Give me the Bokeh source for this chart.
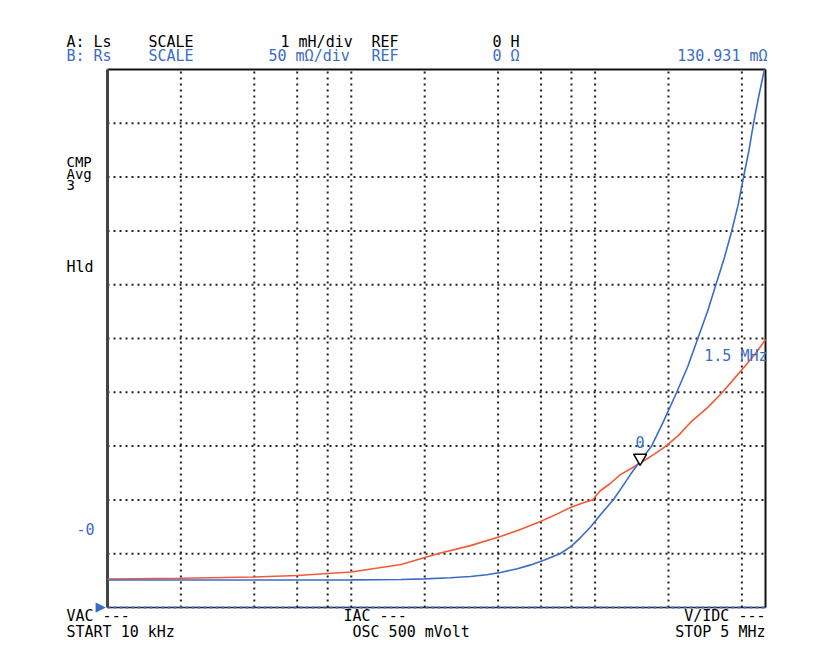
import math
from bokeh.plotting import figure
from bokeh.models import Label, Range1d
from bokeh.embed import file_html
from bokeh.resources import INLINE
from bokeh.core.properties import value

# ---- data -------------------------------------------------------------
# Trace B: Rs (mOhm) vs frequency (Hz)
rs_freq = [10e3, 20e3, 40e3, 60e3, 100e3, 160e3, 200e3, 255e3, 308e3, 360e3,
           409e3, 480e3, 544e3, 620e3, 721e3, 800e3, 871e3, 960e3, 1.05e6,
           1.19e6, 1.3e6, 1.4e6, 1.53e6, 1.7e6, 1.9e6, 2.16e6, 2.4e6, 2.63e6,
           2.9e6, 3.12e6, 3.4e6, 3.63e6, 3.85e6, 4.06e6, 4.27e6, 4.47e6,
           4.7e6, 4.95e6]
rs_mohm = [25.5, 25.5, 25.5, 25.6, 25.7, 26.0, 26.6, 27.6, 28.8, 30.4,
           32.6, 36.0, 39.6, 44.2, 50.2, 57.0, 65.0, 75.0, 86.0,
           100.4, 113.0, 124.0, 136.0, 149.6, 172.0, 199.8, 224.0, 249.0,
           276.0, 299.0, 326.0, 349.4, 373.0, 399.6, 424.0, 450.7,
           476.0, 500.0]

# Trace A: Ls (mH) vs frequency (Hz)
ls_freq = [10e3, 20e3, 40e3, 60e3, 100e3, 160e3, 226e3, 308e3, 409e3, 500e3,
           597e3, 700e3, 793e3, 900e3, 975e3, 1.05e6, 1.15e6, 1.27e6, 1.4e6,
           1.55e6, 1.75e6, 1.94e6, 2.2e6, 2.46e6, 2.9e6, 3.33e6, 3.7e6,
           4.14e6, 4.6e6, 5.0e6]
ls_mh = [0.53, 0.545, 0.567, 0.595, 0.66, 0.80, 1.00, 1.15, 1.32, 1.46,
         1.60, 1.74, 1.86, 1.95, 2.00, 2.17, 2.30, 2.47, 2.58,
         2.70, 2.85, 2.99, 3.20, 3.44, 3.72, 4.00, 4.24,
         4.50, 4.75, 4.98]

# sweep and scale settings
f_start, f_stop = 10e3, 5e6
rs_min, rs_max = 0.0, 500.0          # 50 mOhm/div, 10 div
ls_min, ls_max = 0.0, 10.0           # 1 mH/div, 10 div
grid_freqs = [20e3, 40e3, 60e3, 80e3, 100e3, 200e3, 400e3, 600e3, 800e3,
              1e6, 2e6, 4e6]
rs_grid = [50, 100, 150, 200, 250, 300, 350, 400, 450]

marker_freq = [1.53e6]
marker_rs = [139.0]

BLUE = "#3a6cc6"
RED = "#f25a36"
FONT = "DejaVu Sans Mono"

# ---- layout (pixels) -----------------------------------------------------
W, H = 812, 656
BL, BR, BT, BB = 107, 765, 69, 607     # graticule box on the canvas
TEXT_SHIFT = 6                          # baseline correction for labels

dec_px = (BR - BL) / math.log10(f_stop / f_start)
x0 = f_start / 10 ** (BL / dec_px)
x1 = f_stop * 10 ** ((W - BR) / dec_px)
ky = (BB - BT) / (rs_max - rs_min)
y0 = rs_min - (H - BB) / ky
y1 = rs_max + BT / ky
kl = (BB - BT) / (ls_max - ls_min)
l0 = ls_min - (H - BB) / kl
l1 = ls_max + BT / kl

p = figure(width=W, height=H, x_axis_type="log",
           x_range=Range1d(x0, x1), y_range=Range1d(y0, y1),
           output_backend="svg", toolbar_location=None, title=None,
           min_border=0)
p.extra_y_ranges = {"ls": Range1d(l0, l1)}
p.xaxis.visible = False
p.yaxis.visible = False
p.xgrid.visible = False
p.ygrid.visible = False
p.outline_line_color = None
p.background_fill_color = "white"
p.border_fill_color = "white"

# graticule
n_v = len(grid_freqs)
p.segment(grid_freqs, [rs_min] * n_v, grid_freqs, [rs_max] * n_v,
          line_color="#222222", line_width=2, line_dash="2 4")
n_h = len(rs_grid)
p.segment([f_start] * n_h, rs_grid, [f_stop] * n_h, rs_grid,
          line_color="#222222", line_width=2, line_dash="2 4")

# box
p.segment([f_start], [rs_max], [f_stop], [rs_max], line_color="#111111",
          line_width=2)
p.segment([f_stop], [rs_min], [f_stop], [rs_max], line_color="#111111",
          line_width=2)
p.segment([f_start], [rs_min], [f_stop], [rs_min], line_color="#222222",
          line_width=1.5)
p.segment([f_start], [rs_min], [f_stop], [rs_min], line_color=BLUE,
          line_width=2, line_dash="3 3")
p.segment([f_start], [rs_min], [f_start], [rs_max], line_color="#444444",
          line_width=3)

# traces
p.line(ls_freq, ls_mh, y_range_name="ls", line_color=RED, line_width=1.6)
p.line(rs_freq, rs_mohm, line_color=BLUE, line_width=1.6)

# marker
p.scatter(marker_freq, marker_rs, marker="inverted_triangle", size=13,
          fill_color="white", line_color="black", line_width=1.5)
p.text(marker_freq, marker_rs, text=["0"], y_offset=-10 - TEXT_SHIFT,
       text_color=BLUE, text_font=value(FONT), text_font_size="15px",
       text_align="center", text_baseline="alphabetic")


def lab(text, px, py, color="black", align="left", size="15px"):
    p.add_layout(Label(x=px, y=H - py + TEXT_SHIFT, x_units="screen",
                       y_units="screen", text=text, text_font=FONT,
                       text_font_size=size, text_color=color,
                       text_align=align, text_baseline="alphabetic"))


# header
lab("A: Ls", 66, 47)
lab("SCALE", 148, 47)
lab("1 mH/div", 280, 47)
lab("REF", 371, 47)
lab("0 H", 492, 47)
lab("B: Rs", 66, 61, BLUE)
lab("SCALE", 148, 61, BLUE)
lab("50 mΩ/div", 268, 61, BLUE)
lab("REF", 371, 61, BLUE)
lab("0 Ω", 492, 61, BLUE)
lab("130.931 mΩ", 767, 61, BLUE, "right")

# left status
lab("CMP", 66, 167, size="14px")
lab("Avg", 66, 179, size="14px")
lab("3", 66, 190, size="14px")
lab("Hld", 66, 272)
lab("-0", 76, 534, BLUE)
lab("▶", 95, 611, BLUE, size="17px")

# marker frequency
lab("1.5 MHz", 767, 361, BLUE, "right")

# footer
lab("VAC ---", 66, 621)
lab("START 10 kHz", 66, 637)
lab("IAC ---", 343, 621)
lab("OSC 500 mVolt", 352, 637)
lab("V/IDC ---", 765, 621, "black", "right")
lab("STOP 5 MHz", 765, 637, "black", "right")

open("out.html", "w").write(file_html(p, INLINE))
